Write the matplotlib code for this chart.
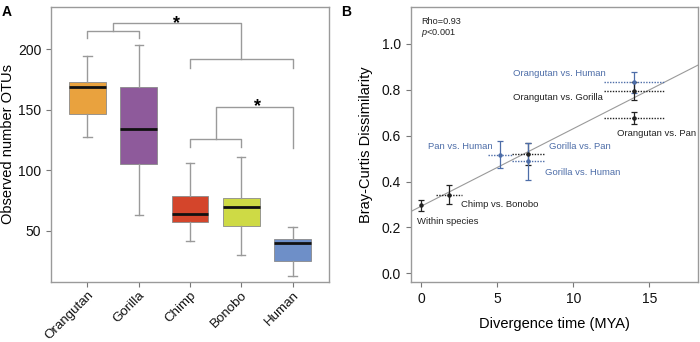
import matplotlib
matplotlib.use("Agg")
import matplotlib.pyplot as plt
import numpy as np

plt.rcParams['font.family'] = ['Liberation Sans', 'DejaVu Sans']
plt.rcParams['mathtext.fontset'] = 'custom'
plt.rcParams['mathtext.it'] = 'Liberation Sans:italic'
plt.rcParams['mathtext.rm'] = 'Liberation Sans'

# ---------------- Panel A data ----------------
species = ["Orangutan", "Gorilla", "Chimp", "Bonobo", "Human"]
whisker_low = [127, 63, 41.5, 30, 13]
q1 = [146.5, 105, 57, 54, 25]
median = [169, 134, 63.5, 70, 40]
q3 = [172.5, 169, 78.5, 77, 43]
whisker_high = [194, 203, 106, 111, 53]
box_colors = ["#E9A23E", "#8E5A9B", "#D4452B", "#CEDA45", "#6E8FC8"]

# ---------------- Panel B data ----------------
pair_labels = ["Within species", "Chimp vs. Bonobo", "Pan vs. Human", "Gorilla vs. Pan",
               "Gorilla vs. Human", "Orangutan vs. Human", "Orangutan vs. Gorilla",
               "Orangutan vs. Pan"]
div_time = [0.0, 1.8, 5.2, 7.0, 7.0, 14.0, 14.0, 14.0]
div_err = [0.0, 0.85, 0.8, 1.05, 1.05, 2.0, 2.0, 2.0]
bc_dissim = [0.296, 0.343, 0.517, 0.519, 0.488, 0.832, 0.794, 0.678]
bc_err = [0.023, 0.042, 0.058, 0.048, 0.08, 0.045, 0.04, 0.027]
pair_is_blue = [False, False, True, False, True, True, False, False]
label_is_blue = [False, False, True, True, True, True, False, False]

BLUE = "#4D6DA8"
DARK = "#222222"
GRAY = "#9A9A9A"

fig = plt.figure(figsize=(7.0, 3.42), dpi=100)
axA = fig.add_axes([0.0729, 0.1746, 0.397, 0.806])
axB = fig.add_axes([0.587, 0.1746, 0.4104, 0.806])

for ax in (axA, axB):
    for s in ax.spines.values():
        s.set_color(GRAY)
        s.set_linewidth(1.0)
    ax.tick_params(colors="#777777", labelcolor="#111111", length=3.5, width=0.8,
                   labelsize=10)

# ---------------- Panel A ----------------
pos = np.arange(1, len(species) + 1)
stats = []
for i, name in enumerate(species):
    stats.append(dict(label=name, whislo=whisker_low[i], q1=q1[i], med=median[i],
                      q3=q3[i], whishi=whisker_high[i], fliers=[]))
bp = axA.bxp(stats, positions=pos, widths=0.72, patch_artist=True, showfliers=False,
             boxprops=dict(edgecolor="#8a8a8a", linewidth=0.6),
             whiskerprops=dict(color=GRAY, linewidth=1.0),
             capprops=dict(color=GRAY, linewidth=1.0),
             medianprops=dict(color="#111111", linewidth=2.0),
             capwidths=0.16)
for patch, c in zip(bp["boxes"], box_colors):
    patch.set_facecolor(c)

axA.set_xlim(0.29, 5.71)
axA.set_ylim(7.4, 235.1)
axA.set_yticks([50, 100, 150, 200])
axA.set_xticks(pos)
axA.set_xticklabels(species, rotation=45, ha="right", rotation_mode="anchor",
                    fontsize=9.6)
axA.tick_params(axis="x", pad=1.5)
axA.set_ylabel("Observed number OTUs", fontsize=10.5, labelpad=2)

# significance brackets
bk = dict(color=GRAY, lw=1.0, clip_on=False)
axA.plot([1, 1, 2, 2], [209, 215, 215, 209], **bk)
axA.plot([1.5, 1.5, 4, 4], [215, 221.5, 221.5, 191.5], **bk)
axA.plot([3, 3, 5, 5], [184, 191.5, 191.5, 184], **bk)
axA.text(2.74, 217.6, "*", ha="center", va="baseline", fontsize=13, fontweight="bold")
axA.plot([3, 3, 4, 4], [119, 125.5, 125.5, 119], **bk)
axA.plot([3.5, 3.5, 5, 5], [125.5, 152, 152, 118], **bk)
axA.text(4.31, 149, "*", ha="center", va="baseline", fontsize=13, fontweight="bold")

fig.text(0.003, 0.985, "A", fontsize=10, fontweight="bold", va="top", ha="left")
fig.text(0.487, 0.985, "B", fontsize=10, fontweight="bold", va="top", ha="left")

# ---------------- Panel B ----------------
axB.set_xlim(-0.68, 18.22)
axB.set_ylim(-0.039, 1.162)
xfit = np.array(axB.get_xlim())
coef = np.polyfit(div_time, bc_dissim, 1)
axB.plot(xfit, np.polyval(coef, xfit), color=GRAY, lw=0.8, zorder=1)

for i in range(len(div_time)):
    col = BLUE if pair_is_blue[i] else DARK
    if div_err[i] > 0:
        eb = axB.errorbar(div_time[i], bc_dissim[i], xerr=div_err[i], fmt="none",
                          ecolor=col, elinewidth=1.0, capsize=0, zorder=2)
        for lc in eb[2]:
            lc.set_linestyle((0, (1, 1)))
    axB.errorbar(div_time[i], bc_dissim[i], yerr=bc_err[i], fmt="o", ms=2.2,
                 color=col, ecolor=col, elinewidth=0.9, capsize=2.5, capthick=0.9,
                 zorder=3)

label_pos = {
    "Within species": (-0.26, 0.224),
    "Chimp vs. Bonobo": (2.59, 0.30),
    "Pan vs. Human": (0.46, 0.551),
    "Gorilla vs. Pan": (8.38, 0.551),
    "Gorilla vs. Human": (8.16, 0.439),
    "Orangutan vs. Human": (6.01, 0.872),
    "Orangutan vs. Gorilla": (6.05, 0.768),
    "Orangutan vs. Pan": (12.9, 0.609),
}
for i, lab in enumerate(pair_labels):
    x, y = label_pos[lab]
    axB.text(x, y, lab, ha="left", va="center", fontsize=6.8,
             color=BLUE if label_is_blue[i] else DARK, clip_on=False)

axB.text(0.0, 1.115, "Rho=0.93\n$p$<0.001", fontsize=6.6, va="top", ha="left",
         color=DARK, linespacing=1.05)

axB.set_xticks([0, 5, 10, 15])
axB.set_yticks([0.0, 0.2, 0.4, 0.6, 0.8, 1.0])
axB.set_yticklabels(["0.0", "0.2", "0.4", "0.6", "0.8", "1.0"])
axB.set_xlabel("Divergence time (MYA)", fontsize=10.5, labelpad=8)
axB.set_ylabel("Bray-Curtis Dissimilarity", fontsize=10.5, labelpad=6)

fig.savefig("out.png", dpi=100)
